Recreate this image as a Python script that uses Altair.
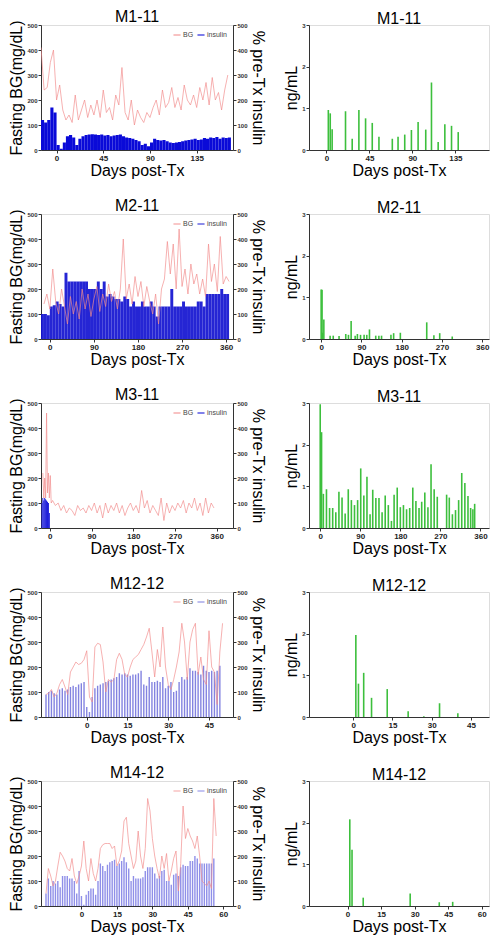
import altair as alt
import pandas as pd

FONT = "Liberation Sans"

# ---------------- data ----------------
titles = ["M1-11", "M2-11", "M3-11", "M12-12", "M14-12"]

# M1-11
m1_bg_days = list(range(-15, 166, 3))
m1_bg = [410, 240, 250, 350, 400, 200, 260, 160, 120, 140, 110, 220, 120, 160, 200, 130, 180, 140, 200, 130,
         240, 150, 170, 120, 220, 180, 330, 150, 120, 200, 100, 160, 130, 110, 150, 130, 170, 200, 140, 240,
         170, 190, 250, 170, 210, 160, 260, 200, 180, 220, 170, 250, 200, 270, 180, 290, 200, 230, 160, 240, 300]
m1_ins_days = list(range(-15, 166, 3))
m1_ins = [120, 110, 120, 170, 150, 20, 5, 30, 55, 60, 50, 20, 45, 55, 60, 62, 63, 62, 60, 62, 58, 60, 55, 58,
          60, 62, 55, 50, 48, 45, 40, 35, 20, 25, 15, 30, 45, 40, 38, 40, 35, 30, 28, 30, 32, 35, 38, 40, 42,
          45, 40, 42, 48, 45, 50, 48, 52, 45, 50, 48, 50]
m1_cp_days = [2, 4, 6, 20, 27, 34, 41, 48, 55, 69, 75, 82, 89, 96, 104, 110, 117, 124, 131, 138]
m1_cp = [0.96, 0.88, 0.50, 0.93, 0.27, 0.96, 0.76, 0.65, 0.32, 0.27, 0.32, 0.37, 0.48, 0.67, 0.49, 1.62,
         0.19, 0.62, 0.58, 0.43]

# M2-11
m2_bg_days = list(range(-12, 367, 6))
m2_bg = [140, 180, 120, 280, 150, 100, 200, 130, 60, 170, 100, 150, 80, 200, 120, 180, 90, 160, 210, 110,
         180, 130, 220, 150, 190, 120, 200, 400, 160, 220, 140, 250, 170, 230, 130, 210, 150, 100, 180, 60,
         200, 240, 390, 260, 380, 200, 440, 210, 280, 180, 300, 220, 260, 180, 240, 170, 380, 230, 300, 190,
         410, 220, 250, 230]
m2_ins_days = list(range(-18, 361, 6))
m2_ins = [100, 100, 95, 130, 135, 150, 140, 130, 265, 230, 230, 230, 230, 230, 230, 230, 200, 200, 200, 230,
          200, 230, 170, 180, 170, 160, 160, 150, 170, 160, 130, 150, 130, 130, 150, 130, 130, 150, 130, 90,
          130, 130, 130, 130, 200, 130, 130, 130, 150, 130, 130, 130, 130, 150, 150, 130, 180, 180, 180, 180,
          180, 200, 180, 180]
m2_cp_days = [0, 2, 3, 6, 20, 27, 40, 55, 61, 67, 76, 81, 88, 96, 102, 108, 122, 129, 135, 156, 162, 177,
              236, 252, 265, 293]
m2_cp = [1.19, 1.18, 0.15, 0.47, 0.08, 0.08, 0.07, 0.12, 0.10, 0.43, 0.08, 0.12, 0.10, 0.10, 0.10, 0.23,
         0.08, 0.08, 0.08, 0.10, 0.14, 0.15, 0.40, 0.09, 0.14, 0.06]

# M3-11
m3_bg_days = [-15, -13, -11, -9, -7, -5, -3, -1, 1, 3] + list(range(6, 355, 6))
m3_bg = [220, 120, 200, 120, 460, 140, 220, 120, 210, 100,
         110, 90, 100, 70, 90, 60, 80, 70, 50, 90, 70, 80, 60, 90, 70, 100, 60, 90, 40, 100, 60, 90, 70, 100,
         60, 90, 50, 80, 100, 70, 90, 60, 150, 80, 110, 60, 90, 70, 50, 120, 30, 100, 60, 90, 70, 100, 80, 110,
         60, 100, 80, 120, 70, 100, 50, 120, 60, 100, 80]
m3_ins_days = [-18, -16, -14, -12, -10, -8, -6, -4, -2]
m3_ins = [100, 120, 110, 120, 115, 110, 105, 100, 60]
m3_cp_days = [0, 3, 7, 14, 21, 28, 35, 42, 49, 56, 63, 70, 77, 84, 91, 98, 105, 112, 118, 125, 132, 139, 146,
              153, 160, 166, 173, 180, 187, 194, 201, 208, 215, 222, 228, 235, 242, 249, 256, 263, 284, 290,
              297, 304, 311, 318, 325, 332, 338, 343, 347]
m3_cp = [2.97, 2.30, 0.82, 0.93, 0.48, 0.48, 0.38, 0.87, 0.73, 0.35, 0.93, 0.67, 0.55, 0.67, 1.43, 0.78,
         1.23, 0.33, 0.92, 0.72, 0.72, 0.38, 0.78, 0.55, 0.17, 0.80, 0.97, 0.50, 0.55, 0.45, 0.48, 0.97, 0.65,
         0.48, 0.63, 0.85, 0.50, 1.53, 0.93, 0.75, 0.80, 0.73, 0.33, 0.43, 0.67, 1.32, 1.08, 0.77, 0.48, 0.45,
         0.58]

# M12-12
m12_bg_days = list(range(-15, 51))
m12_bg = [90, 95, 110, 80, 95, 130, 150, 120, 90, 180, 200, 220, 210, 215, 230,
          265, 80, 60, 280, 295, 290, 220, 100, 150, 140, 150, 230, 255, 230, 170, 160, 200, 230, 240, 250,
          270, 290, 320, 355, 260, 160, 270, 200, 360, 200, 130, 110, 150, 200, 260, 375, 300, 150, 300, 350,
          375, 170, 240, 150, 130, 345, 200, 180, 50, 260, 375]
m12_ins_days = list(range(-15, 50))
m12_ins = [90, 100, 105, 95, 90, 110, 115, 105, 110, 120, 125, 120, 130, 135, 140,
           40, 20, 80, 115, 125, 130, 135, 140, 145, 150, 155, 160, 175, 170, 175, 170, 165, 170, 170, 175,
           185, 130, 125, 160, 140, 140, 145, 140, 160, 115, 125, 140, 100, 105, 140, 160, 150, 160, 195, 185,
           185, 180, 170, 205, 185, 180, 185, 180, 185, 205]
m12_cp_days = [1, 2, 4, 7, 13, 21, 27, 33, 40]
m12_cp = [1.97, 0.80, 1.06, 0.46, 0.67, 0.14, 0.02, 0.33, 0.09]

# M14-12
m14_bg_days = list(range(-15, 58))
m14_bg = [50, 150, 120, 80, 100, 160, 215, 200, 180, 150, 140, 190, 120, 90, 120,
          160, 260, 150, 100, 190, 130, 100, 150, 230, 245, 250, 250, 250, 230, 240, 160, 180, 220, 340, 355,
          250, 200, 150, 180, 300, 200, 150, 230, 430, 380, 270, 200, 150, 110, 200, 150, 210, 100, 140, 190,
          220, 60, 170, 400, 270, 310, 280, 260, 230, 280, 200, 100, 90, 80, 100, 70, 430, 280]
m14_ins_days = list(range(-15, 57))
m14_ins = [50, 110, 80, 100, 90, 100, 75, 120, 120, 120, 110, 110, 100, 50, 140,
           40, 5, 45, 60, 70, 70, 45, 100, 170, 160, 140, 165, 175, 180, 185, 160, 170, 180, 195, 175, 150,
           100, 120, 110, 110, 110, 115, 140, 155, 155, 155, 130, 110, 120, 140, 145, 100, 100, 85, 125, 130,
           120, 155, 165, 160, 160, 180, 180, 200, 190, 170, 170, 170, 170, 170, 170, 190]
m14_cp_days = [1, 2, 7, 28, 41, 47]
m14_cp = [2.08, 1.35, 0.20, 0.30, 0.09, 0.10]

left_domains = [[-15, 170], [-18, 374], [-19, 395], [-15, 52], [-15, 62]]
left_ticks = [[0, 45, 90, 135], [0, 90, 180, 270, 360], [0, 90, 180, 270, 360], [0, 15, 30, 45],
              [0, 15, 30, 45, 60]]
right_domains = [[-13, 165], [-16, 364], [-14, 368], [-15, 50], [-15, 61]]
right_ticks = [[0, 45, 90, 135], [0, 90, 180, 270, 360], [0, 90, 180, 270, 360], [0, 15, 30, 45],
               [0, 15, 30, 45, 60]]

bg_sets = [(m1_bg_days, m1_bg), (m2_bg_days, m2_bg), (m3_bg_days, m3_bg), (m12_bg_days, m12_bg),
           (m14_bg_days, m14_bg)]
ins_sets = [(m1_ins_days, m1_ins), (m2_ins_days, m2_ins), (m3_ins_days, m3_ins), (m12_ins_days, m12_ins),
            (m14_ins_days, m14_ins)]
cp_sets = [(m1_cp_days, m1_cp), (m2_cp_days, m2_cp), (m3_cp_days, m3_cp), (m12_cp_days, m12_cp),
           (m14_cp_days, m14_cp)]

# styles per row: (bar step in days or None for thin bars, colour, opacity)
ins_style = [(3, "#0a0ad8", 1.0), (6, "#1212d0", 0.92), (2, "#1010d8", 1.0), (None, "#5a5ad6", 0.75),
             (None, "#6a6ae0", 0.75)]

LW, LH = 192, 125
RW, RH = 180, 125

YLAB = dict(labelFontSize=6, labelFontWeight="bold", labelColor="#333", tickSize=3, labelPadding=1,
            domainColor="#333", tickColor="#333", grid=False, titleFontSize=16, titleFontWeight="normal",
            titleColor="#000", titleFont=FONT, labelFont=FONT, titlePadding=2)
XLAB = dict(labelFontSize=8, labelFontWeight="bold", labelColor="#222", tickSize=3, labelPadding=1,
            domainColor="#333", tickColor="#333", grid=False, titleFontSize=16, titleFontWeight="normal",
            titleColor="#000", titleFont=FONT, labelFont=FONT, titlePadding=0, labelFlush=False)


def make_title(text):
    return alt.Title(text, fontSize=16, fontWeight="normal", font=FONT, color="#000", offset=-5,
                     frame="group")


def left_panel(i):
    bd, bv = bg_sets[i]
    idays, iv = ins_sets[i]
    bg_df = pd.DataFrame({"day": bd, "value": bv, "series": "BG"})
    ins_df = pd.DataFrame({"day": idays, "value": iv, "series": "insulin"})
    step, bcol, bop = ins_style[i]
    xenc = alt.X("day:Q", scale=alt.Scale(domain=left_domains[i], nice=False),
                 axis=alt.Axis(values=left_ticks[i], title="Days post-Tx", **XLAB))
    color = alt.Color("series:N",
                      scale=alt.Scale(domain=["BG", "insulin"], range=["#f28c8c", bcol]),
                      legend=alt.Legend(title=None, orient="top-right", direction="horizontal",
                                        labelFontSize=7, labelColor="#444", labelFont=FONT,
                                        symbolType="M-1,-0.15L1,-0.15L1,0.15L-1,0.15Z", symbolSize=50,
                                        symbolStrokeWidth=0, columnPadding=3, labelOffset=2, padding=0,
                                        offset=6))
    yr = alt.Y("value:Q", scale=alt.Scale(domain=[0, 500]),
               axis=alt.Axis(orient="right", title="% pre-Tx insulin", values=[0, 100, 200, 300, 400, 500],
                             **YLAB))
    if step is not None:
        bars = alt.Chart(ins_df).transform_calculate(day_end=f"datum.day + {step}").mark_bar(
            opacity=bop, clip=True, strokeWidth=0).encode(
            x=xenc, x2="day_end:Q", y=yr, y2=alt.datum(0), color=color)
    else:
        bars = alt.Chart(ins_df).mark_bar(size=1.4, opacity=bop, clip=True).encode(
            x=xenc, y=yr, color=color)
    line = alt.Chart(bg_df).mark_line(strokeWidth=0.8, opacity=0.85, clip=True).encode(
        x=alt.X("day:Q"),
        y=alt.Y("value:Q", scale=alt.Scale(domain=[0, 500]),
                axis=alt.Axis(orient="left", title="Fasting BG(mg/dL)", values=[0, 100, 200, 300, 400, 500],
                              **YLAB)),
        color=color)
    return alt.layer(bars, line).resolve_scale(y="independent").properties(
        width=LW, height=LH, title=make_title(titles[i]))


def right_panel(i):
    d, v = cp_sets[i]
    df = pd.DataFrame({"day": d, "cp": v})
    return alt.Chart(df).mark_bar(size=1.6, color="#3dbf3d", clip=True).encode(
        x=alt.X("day:Q", scale=alt.Scale(domain=right_domains[i], nice=False),
                axis=alt.Axis(values=right_ticks[i], title="Days post-Tx", **XLAB)),
        y=alt.Y("cp:Q", scale=alt.Scale(domain=[0, 3]),
                axis=alt.Axis(values=[0, 1, 2, 3], title="ng/mL", **YLAB)),
    ).properties(width=RW, height=RH, title=make_title(titles[i]))


rows = [alt.hconcat(left_panel(i), right_panel(i), spacing=76, bounds="flush").resolve_scale(
    color="independent") for i in range(5)]

chart = alt.vconcat(*rows, spacing=18).resolve_scale(color="independent").properties(
    padding={"left": 0, "top": 0, "right": 0, "bottom": 0}
).configure_view(strokeWidth=0).configure(background="white")

chart.save("out.html", embed_options={"renderer": "svg", "actions": False})
